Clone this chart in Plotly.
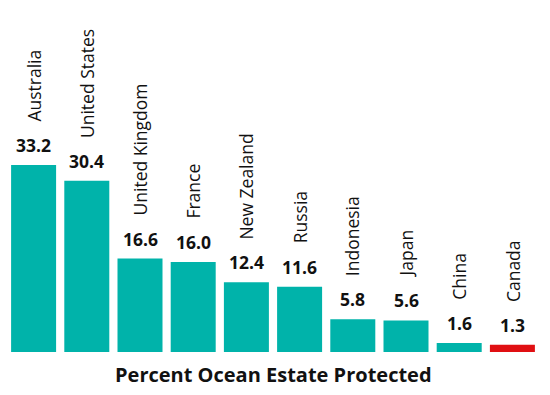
import plotly.graph_objects as go

countries = ["Australia", "United States", "United Kingdom", "France", "New Zealand",
             "Russia", "Indonesia", "Japan", "China", "Canada"]
values = [33.2, 30.4, 16.6, 16.0, 12.4, 11.6, 5.8, 5.6, 1.6, 1.3]
value_labels = ["33.2", "30.4", "16.6", "16.0", "12.4", "11.6", "5.8", "5.6", "1.6", "1.3"]
colors = ["#00b3aa"] * 9 + ["#e00f12"]
x_title = "Percent Ocean Estate Protected"

fig = go.Figure(go.Bar(x=countries, y=values, marker=dict(color=colors, line=dict(width=0)),
                       hoverinfo="skip"))

annotations = []
for c, v, lab in zip(countries, values, value_labels):
    annotations.append(dict(x=c, y=v, xref="x", yref="y", text=f"<b>{lab}</b>",
                            showarrow=False, yanchor="bottom", yshift=6,
                            font=dict(family="Open Sans", size=17.5, color="#111111")))
    annotations.append(dict(x=c, y=v, xref="x", yref="y", text=c, textangle=-90,
                            showarrow=False, yanchor="bottom", yshift=41,
                            font=dict(family="Open Sans", size=17.5, color="#111111")))
annotations.append(dict(x=0.5, y=0, xref="paper", yref="paper", text=f"<b>{x_title}</b>",
                        showarrow=False, yanchor="top", yshift=-7,
                        font=dict(family="Open Sans", size=20, color="#111111")))

fig.update_layout(
    width=550, height=395,
    margin=dict(l=7, r=11, t=0, b=43),
    paper_bgcolor="white", plot_bgcolor="white",
    bargap=0.154,
    showlegend=False,
    annotations=annotations,
    xaxis=dict(showticklabels=False, showgrid=False, zeroline=False, showline=False, ticks=""),
    yaxis=dict(range=[0, 62.5], visible=False, showgrid=False, zeroline=False),
)

fig.write_html("out.html", config={"displayModeBar": False},
               post_script="document.body.style.margin='0';")
